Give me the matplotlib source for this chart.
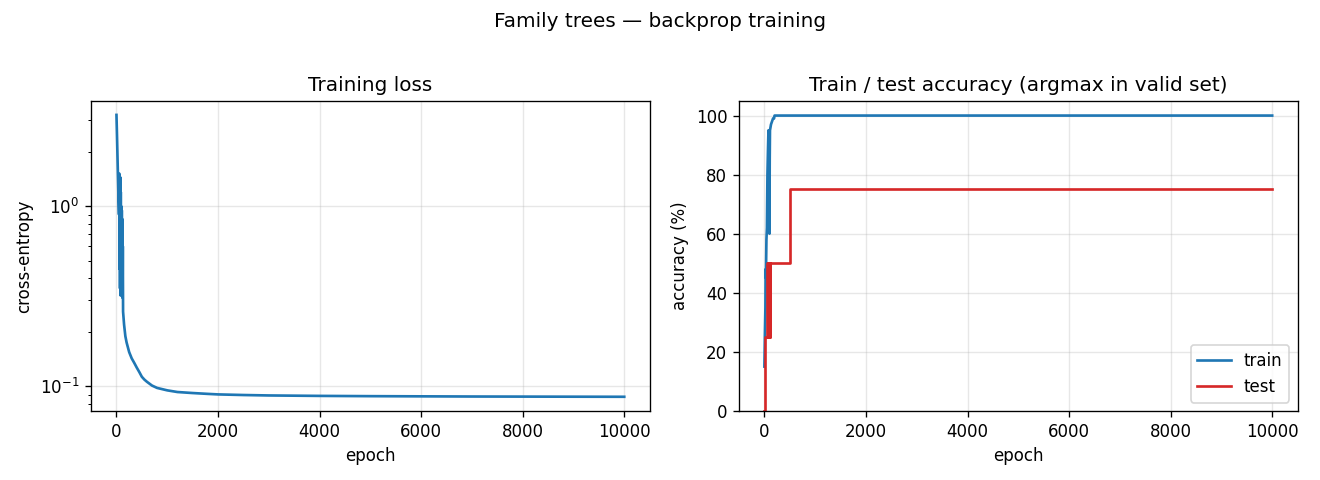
import matplotlib as mpl
mpl.use("Agg")
import matplotlib.pyplot as plt

# loss curve
loss_epoch = [0, 10, 20, 30, 40, 50, 55, 60, 65, 70, 75, 80, 85, 90, 95, 100, 105, 110,
              115, 120, 125, 130, 150, 175, 200, 250, 300, 350, 400, 450, 500, 550, 600,
              700, 800, 1000, 1200, 1500, 1800, 2000, 2500, 3000, 4000, 5000, 6000, 7000,
              8000, 9000, 10000]
loss_val = [3.22, 2.5, 1.9, 1.45, 1.1, 0.9, 1.52, 0.45, 1.3, 0.35, 1.45, 0.32, 1.2, 0.34,
            1.0, 0.32, 0.95, 0.4, 0.85, 0.31, 0.6, 0.26, 0.22, 0.19, 0.175, 0.155, 0.143,
            0.135, 0.127, 0.12, 0.113, 0.109, 0.106, 0.101, 0.098, 0.095, 0.093, 0.0918,
            0.0908, 0.0902, 0.0895, 0.089, 0.0885, 0.0882, 0.088, 0.0878, 0.0877, 0.0876,
            0.0875]

# accuracy
train_epoch = [0, 5, 10, 20, 25, 30, 40, 50, 60, 70, 80, 90, 95, 100, 105, 110, 120, 130,
               150, 170, 190, 200, 10000]
train_acc = [15, 20, 26, 35, 48, 45, 58, 62, 80, 88, 95, 94, 70, 60, 85, 95, 96, 97, 98,
             99, 99, 100, 100]

test_epoch = [0, 5, 60, 70, 80, 90, 100, 110, 120, 510, 10000]
test_acc = [0, 25, 50, 25, 50, 25, 50, 25, 50, 75, 75]

fig, (ax1, ax2) = plt.subplots(1, 2, figsize=(11, 4), dpi=120)
fig.subplots_adjust(left=0.069, right=0.983, bottom=0.144, top=0.79, wspace=0.16)
fig.suptitle("Family trees \u2014 backprop training", fontsize=12, y=0.975)

ax1.plot(loss_epoch, loss_val, color="tab:blue", lw=1.6)
ax1.set_yscale("log")
ax1.set_xlabel("epoch")
ax1.set_ylabel("cross-entropy")
ax1.set_title("Training loss")
ax1.grid(True, alpha=0.3)

ax2.plot(train_epoch, train_acc, color="tab:blue", lw=1.6, label="train")
ax2.plot(test_epoch, test_acc, color="tab:red", lw=1.6, drawstyle="steps-post", label="test")
ax2.set_ylim(0, 105)
ax2.set_xlabel("epoch")
ax2.set_ylabel("accuracy (%)")
ax2.set_title("Train / test accuracy (argmax in valid set)")
ax2.grid(True, alpha=0.3)
ax2.legend(loc="lower right")

fig.savefig("out.png")
